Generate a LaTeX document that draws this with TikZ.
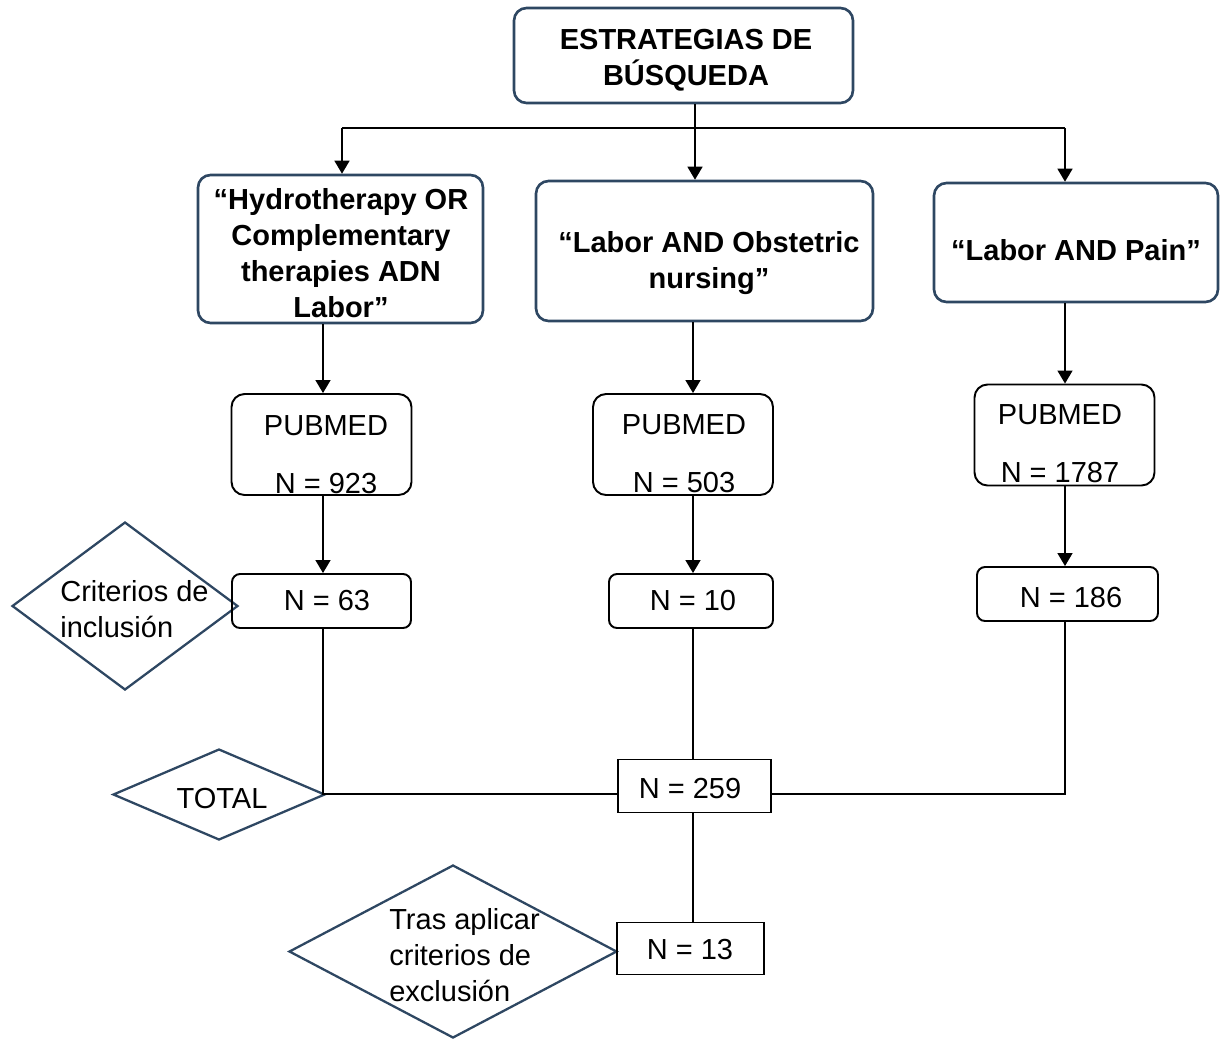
\documentclass[tikz,border=0pt]{standalone}
\usepackage{fontspec}
\setmainfont{Liberation Sans}
\usetikzlibrary{arrows.meta, shapes.geometric}

\definecolor{navy}{RGB}{46,71,98}
\tikzset{
  qbox/.style={draw=navy, line width=1.5pt, rounded corners=0.25cm, inner sep=0},
  qtxt/.style={align=center, inner sep=0, font=\bfseries\fontsize{16.5}{20.5}\selectfont},
  pbox/.style={draw=black, line width=1.1pt, rounded corners=0.26cm, minimum width=3.6cm, minimum height=2.02cm},
  nbox/.style={draw=black, line width=1.1pt, rounded corners=0.16cm, minimum height=1.08cm, font=\fontsize{16.5}{20.5}\selectfont},
  sbox/.style={draw=black, line width=0.8pt, minimum height=1.05cm, font=\fontsize{16.5}{20.5}\selectfont},
  dia/.style={draw=navy, line width=1.3pt, diamond, inner sep=0},
  txt/.style={inner sep=0, font=\fontsize{16.5}{20.5}\selectfont},
  arr/.style={-{Triangle[width=0.3cm,length=0.26cm]}, line width=0.8pt},
  ln/.style={line width=0.8pt}
}

\begin{document}
\begin{tikzpicture}[x=0.02cm, y=-0.02cm]
\useasboundingbox (0,0) rectangle (1221,1039);

\node[qbox, minimum width=6.78cm, minimum height=1.9cm] (top) at (683.5,55.5) {};
\node[qtxt] (topt) at (686,60.5) {ESTRATEGIAS DE\\BÚSQUEDA};
\node[qbox, minimum width=5.7cm, minimum height=2.96cm] (b1) at (340.5,249) {};
\node[qtxt] (b1t) at (341,253.5) {“Hydrotherapy OR\\Complementary\\therapies ADN\\Labor”};
\node[qbox, minimum width=6.74cm, minimum height=2.8cm] (b2) at (704.5,251) {};
\node[qtxt] (b2t) at (709,263.5) {“Labor AND Obstetric\\nursing”};
\node[qbox, minimum width=5.68cm, minimum height=2.38cm] (b3) at (1076,242.5) {};
\node[qtxt] (b3t) at (1076,250.5) {“Labor AND Pain”};

\node[pbox] (p1) at (321.5,444.5) {};
\node[txt, align=center] (p1t) at (326,454.5) {PUBMED\\[12.5pt]N = 923};
\node[pbox] (p2) at (683,444.5) {};
\node[txt, align=center] (p2t) at (684,454) {PUBMED\\[12.5pt]N = 503};
\node[pbox] (p3) at (1064.5,435) {};
\node[txt, align=center] (p3t) at (1060,443.5) {PUBMED\\[12.5pt]N = 1787};

\node[dia, minimum width=4.52cm, minimum height=3.36cm] (inc) at (125,606) {};
\node[txt, align=left, anchor=west] (inct) at (60,609) {Criterios de\\inclusión};
\node[dia, minimum width=4.24cm, minimum height=1.82cm] (tot) at (219,794.5) {};
\node[txt] (tott) at (222,799) {TOTAL};
\node[dia, minimum width=6.56cm, minimum height=3.46cm] (exc) at (453,951.5) {};
\node[txt, align=left, anchor=west] (exct) at (389,955) {Tras aplicar\\criterios de\\exclusión};

\node[nbox, minimum width=3.58cm] (n1) at (321.5,601) {};
\node[txt] (n1t) at (327,601) {N = 63};
\node[nbox, minimum width=3.28cm] (n2) at (691,601) {};
\node[txt] (n2t) at (693,601) {N = 10};
\node[nbox, minimum width=3.62cm] (n3) at (1067.5,594) {};
\node[txt] (n3t) at (1071,598) {N = 186};
\node[sbox, minimum width=3.06cm] (tot2) at (694.5,786) {};
\node[txt] (tot2t) at (690,789) {N = 259};
\node[sbox, minimum width=2.94cm] (fin) at (690.5,948.5) {};
\node[txt] (fint) at (690,950) {N = 13};

\coordinate (split) at (695,128);
\coordinate (hl) at (342,128);
\coordinate (hr) at (1065,128);
\coordinate (c1) at (323,0);
\coordinate (c2) at (693,0);
\coordinate (c3) at (1065,0);

\draw[ln] (hl) -- (hr);
\draw[ln] (split |- top.south) -- (split);
\draw[arr] (hl) -- (hl |- b1.north);
\draw[arr] (split) -- (split |- b2.north);
\draw[arr] (hr) -- (hr |- b3.north);

\draw[arr] (c1 |- b1.south) -- (c1 |- p1.north);
\draw[arr] (c2 |- b2.south) -- (c2 |- p2.north);
\draw[arr] (c3 |- b3.south) -- (c3 |- p3.north);
\draw[arr] (c1 |- p1.south) -- (c1 |- n1.north);
\draw[arr] (c2 |- p2.south) -- (c2 |- n2.north);
\draw[arr] (c3 |- p3.south) -- (c3 |- n3.north);

\draw[ln] (c1 |- n1.south) |- ([yshift=-0.16cm]tot2.west);
\draw[ln] (c3 |- n3.south) |- ([yshift=-0.16cm]tot2.east);
\draw[ln] (c2 |- n2.south) -- (c2 |- tot2.north);
\draw[ln] (c2 |- tot2.south) -- (c2 |- fin.north);
\end{tikzpicture}
\end{document}
